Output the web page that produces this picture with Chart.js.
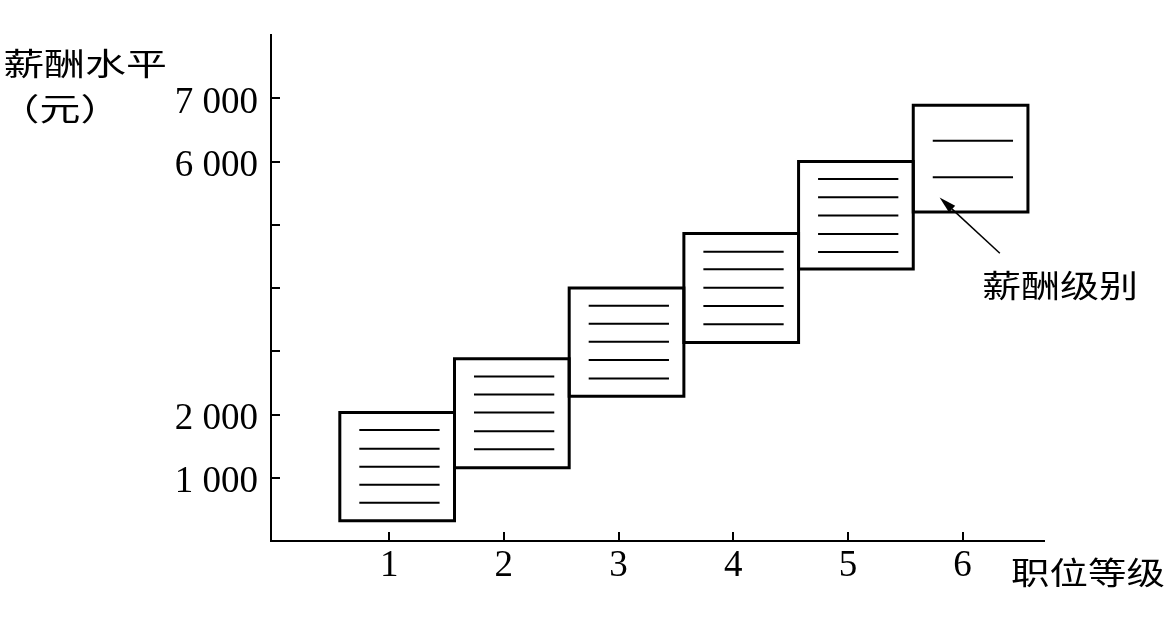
<!DOCTYPE html>
<html lang="zh">
<head>
    <meta charset="UTF-8">
    <title>薪酬级别</title>
    <script src="https://cdn.jsdelivr.net/npm/chart.js"></script>
    <style>
        body { margin: 0; background: #fff; }
        #wrap { width: 1171px; height: 629px; }
    </style>
</head>
<body>
    <div id="wrap">
        <canvas id="payChart"></canvas>
    </div>

    <script>
        // job grades (x) and the salary range of each grade (y)
        var grades = [1, 2, 3, 4, 5, 6];
        var rangeMin = [320, 1160, 2290, 3140, 4300, 5200];
        var rangeMax = [2030, 2880, 4000, 4860, 6000, 6890];
        // pay steps inside each grade
        var stepLines = [
            [1755, 1460, 1175, 890, 605],
            [2600, 2315, 2030, 1735, 1450],
            [3720, 3435, 3150, 2860, 2570],
            [4575, 4295, 4005, 3715, 3425],
            [5725, 5435, 5145, 4855, 4570],
            [6330, 5750]
        ];

        var xTickValues = [1, 2, 3, 4, 5, 6];
        var xTickLabels = ['1', '2', '3', '4', '5', '6'];
        var yTickValues = [1000, 2000, 3000, 4000, 5000, 6000, 7000];
        var yTickLabels = ['1 000', '2 000', '', '', '', '6 000', '7 000'];

        // annotation arrow (data coords)
        var arrowFrom = { x: 6.325, y: 4550 };
        var arrowTo = { x: 5.80, y: 5430 };
        var noteAt = { x: 6.85, y: 4050 };

        var BOX_L = -0.43, BOX_R = 0.57;     // box edges relative to the grade
        var STEP_L = -0.26, STEP_R = 0.44;   // step lines relative to the grade

        var datasets = [];
        grades.forEach(function (g, i) {
            var l = g + BOX_L, r = g + BOX_R;
            datasets.push({
                data: [
                    { x: l, y: rangeMin[i] }, { x: r, y: rangeMin[i] },
                    { x: r, y: rangeMax[i] }, { x: l, y: rangeMax[i] },
                    { x: l, y: rangeMin[i] }
                ],
                borderColor: '#000',
                borderWidth: 3,
                borderJoinStyle: 'miter',
                borderCapStyle: 'square',
            });
            stepLines[i].forEach(function (v) {
                datasets.push({
                    data: [{ x: g + STEP_L, y: v }, { x: g + STEP_R, y: v }],
                    borderColor: '#000',
                    borderWidth: 2,
                });
            });
        });

        var serif = 'Liberation Serif';
        var cjk = '"Noto Sans CJK SC"';

        function stretchText(ctx, text, x, y, sx, align) {
            ctx.save();
            ctx.translate(x, y);
            ctx.scale(sx, 1);
            ctx.textAlign = align;
            ctx.textBaseline = 'middle';
            ctx.fillText(text, 0, 0);
            ctx.restore();
        }

        var extras = {
            id: 'extras',
            afterDraw: function (chart) {
                var ctx = chart.ctx;
                var xs = chart.scales.x, ys = chart.scales.y;
                var area = chart.chartArea;
                ctx.save();
                ctx.strokeStyle = '#000';
                ctx.fillStyle = '#000';
                ctx.lineWidth = 2;

                // tick marks pointing into the plot
                xTickValues.forEach(function (v) {
                    var px = Math.round(xs.getPixelForValue(v));
                    ctx.beginPath();
                    ctx.moveTo(px, area.bottom);
                    ctx.lineTo(px, area.bottom - 9);
                    ctx.stroke();
                });
                yTickValues.forEach(function (v) {
                    var py = Math.round(ys.getPixelForValue(v));
                    ctx.beginPath();
                    ctx.moveTo(area.left, py);
                    ctx.lineTo(area.left + 9, py);
                    ctx.stroke();
                });

                // arrow to the last grade
                var x1 = xs.getPixelForValue(arrowFrom.x), y1 = ys.getPixelForValue(arrowFrom.y);
                var x2 = xs.getPixelForValue(arrowTo.x), y2 = ys.getPixelForValue(arrowTo.y);
                var ang = Math.atan2(y2 - y1, x2 - x1);
                var headLen = 17, headW = 4.5;
                var bx = x2 - headLen * Math.cos(ang), by = y2 - headLen * Math.sin(ang);
                ctx.lineWidth = 1.5;
                ctx.beginPath();
                ctx.moveTo(x1, y1);
                ctx.lineTo(bx, by);
                ctx.stroke();
                ctx.beginPath();
                ctx.moveTo(x2, y2);
                ctx.lineTo(bx + headW * Math.sin(ang), by - headW * Math.cos(ang));
                ctx.lineTo(bx - headW * Math.sin(ang), by + headW * Math.cos(ang));
                ctx.closePath();
                ctx.fill();

                // texts
                ctx.font = '31px ' + cjk;
                stretchText(ctx, '薪酬级别', xs.getPixelForValue(noteAt.x), ys.getPixelForValue(noteAt.y), 1.26, 'center');
                stretchText(ctx, '薪酬水平', 85, 63, 1.32, 'center');
                stretchText(ctx, '（元）', 60, 108, 1.32, 'center');
                stretchText(ctx, '职位等级', 1088, 572, 1.24, 'center');
                ctx.restore();
            }
        };

        var ctx = document.getElementById('payChart').getContext('2d');
        var payChart = new Chart(ctx, {
            type: 'scatter',
            data: { datasets: datasets },
            options: {
                responsive: true,
                maintainAspectRatio: false,
                animation: false,
                showLine: true,
                elements: { point: { radius: 0, hoverRadius: 0 }, line: { tension: 0 } },
                layout: { padding: { top: 35, right: 127, left: 0, bottom: 0 } },
                plugins: {
                    legend: { display: false },
                    tooltip: { enabled: false },
                },
                scales: {
                    x: {
                        type: 'linear',
                        min: -0.03,
                        max: 6.71,
                        grid: { display: false },
                        border: { display: true, color: '#000', width: 2 },
                        afterBuildTicks: function (s) {
                            s.ticks = xTickValues.map(function (v) { return { value: v }; });
                        },
                        afterFit: function (s) { s.height = 88; },
                        ticks: {
                            color: '#000',
                            font: { family: serif, size: 37 },
                            padding: -5,
                            maxRotation: 0,
                            callback: function (v) {
                                var i = xTickValues.indexOf(v);
                                return i < 0 ? '' : xTickLabels[i];
                            }
                        }
                    },
                    y: {
                        type: 'linear',
                        min: 0,
                        max: 8000,
                        grid: { display: false },
                        border: { display: true, color: '#000', width: 2 },
                        afterBuildTicks: function (s) {
                            s.ticks = yTickValues.map(function (v) { return { value: v }; });
                        },
                        afterFit: function (s) { s.width = 271; },
                        ticks: {
                            color: '#000',
                            font: { family: serif, size: 37 },
                            padding: 5,
                            labelOffset: 5,
                            callback: function (v) {
                                var i = yTickValues.indexOf(v);
                                return i < 0 ? '' : yTickLabels[i];
                            }
                        }
                    }
                }
            },
            plugins: [extras]
        });
    </script>
</body>
</html>
